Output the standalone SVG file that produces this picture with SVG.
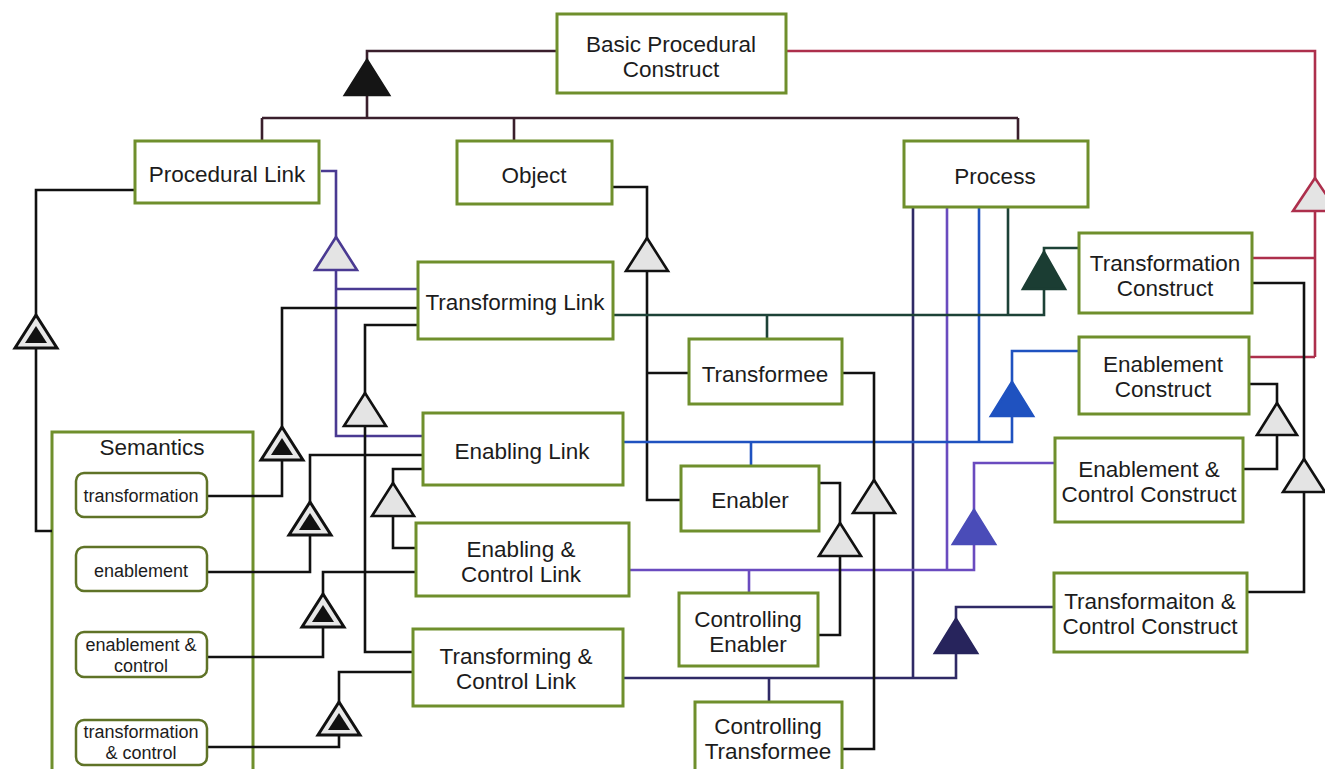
<svg xmlns="http://www.w3.org/2000/svg" width="1325" height="769" viewBox="0 0 1325 769">
<style>
.node rect{fill:#fff;stroke:#6f8f2c;stroke-width:3}
.sub rect{fill:#fff;stroke:#5f7327;stroke-width:2.5}
text{font-family:"Liberation Sans",Arial,sans-serif;fill:#1c1c1c;text-anchor:middle;dominant-baseline:central}
.t{font-size:22.5px}
.s{font-size:18px}
.c path{fill:none;stroke-width:2.6}
.k{stroke:#111}
.m{stroke:#3a1f2c}
.r{stroke:#ad2f4c}
.p{stroke:#4a3a92}
.g{stroke:#1d4237}
.b{stroke:#1f52c0}
.v{stroke:#6a4bbf}
.n{stroke:#2f2a66}
.tri{stroke-width:2.6;stroke-linejoin:miter}
.gray{fill:#e4e4e4}
</style>
<defs>
<g id="dtri"><polygon points="0,0 -21,33 21,33" fill="#e8e8e8" stroke="#111" stroke-width="3"/><polygon points="0,11 -11,28 11,28" fill="#111"/></g>
</defs>
<rect width="1325" height="769" fill="#fff"/>
<g id="semantics" class="node"><rect x="52" y="432" width="201" height="350"/><text class="t" x="152" y="447">Semantics</text></g>
<g id="connectors" class="c">
<path class="m" d="M557,51H367V62M367,95V118M262,118H1018M262,118V141M514,118V141M1018,118V141"/>
<path class="r" d="M786,51H1315V180M1315,211V357M1252,258H1315M1249,357H1315"/>
<path class="p" d="M321,171H336V239M336,270V436H423M336,289H418"/>
<path class="k" d="M135,190H36V315M36,349V531H52"/>
<path class="k" d="M612,187H647V240M647,271V500H681M647,373H689"/>
<path class="n" d="M913,207V678"/>
<path class="v" d="M947,207V570"/>
<path class="b" d="M979,207V442"/>
<path class="g" d="M1008,207V315"/>
<path class="g" d="M613,315H1044V289M767,315V339M1044,254V248H1079"/>
<path class="b" d="M623,442H1012V416M751,442V466M1012,384V351H1079"/>
<path class="v" d="M629,570H974V544M749,570V593M974,512V463H1055"/>
<path class="n" d="M623,678H956V653M769,678V702M956,621V607H1054"/>
<path class="k" d="M842,373H874V482M874,513V749H842"/>
<path class="k" d="M819,483H840V525M840,556V635H818"/>
<path class="k" d="M1249,384H1277V405M1277,435V469H1243"/>
<path class="k" d="M1252,283H1304V461M1304,492V592H1247"/>
<path class="k" d="M418,325H365V395M365,426V652H413"/>
<path class="k" d="M423,469H393V485M393,516V548H416"/>
<path class="k" d="M207,496H282V460M282,427V308H418"/>
<path class="k" d="M207,572H310V535M310,502V455H423"/>
<path class="k" d="M207,657H323V627M323,594V572H416"/>
<path class="k" d="M207,747H339V735M339,702V672H413"/>
</g>
<g id="triangles">
<polygon class="tri" points="367,60 345,95 389,95" fill="#151515" stroke="#151515"/>
<polygon class="tri gray" points="1315,178 1293,211 1337,211" stroke="#ad2f4c"/>
<polygon class="tri gray" points="336,237 315,270 357,270" stroke="#4a3a92"/>
<polygon class="tri gray" points="647,238 626,271 668,271" stroke="#111"/>
<polygon class="tri" points="1044,252 1023,289 1065,289" fill="#1b3d33" stroke="#1b3d33"/>
<polygon class="tri" points="1012,382 991,416 1033,416" fill="#1f52c0" stroke="#1f52c0"/>
<polygon class="tri" points="974,510 953,544 995,544" fill="#4a4cb8" stroke="#4a4cb8"/>
<polygon class="tri" points="956,619 935,653 977,653" fill="#27245c" stroke="#27245c"/>
<polygon class="tri gray" points="874,480 853,513 895,513" stroke="#111"/>
<polygon class="tri gray" points="840,523 819,556 861,556" stroke="#111"/>
<polygon class="tri gray" points="1277,403 1257,435 1297,435" stroke="#111"/>
<polygon class="tri gray" points="1304,459 1283,492 1325,492" stroke="#111"/>
<polygon class="tri gray" points="365,393 344,426 386,426" stroke="#111"/>
<polygon class="tri gray" points="393,483 372,516 414,516" stroke="#111"/>
<use href="#dtri" x="36" y="315"/>
<use href="#dtri" x="282" y="427"/>
<use href="#dtri" x="310" y="502"/>
<use href="#dtri" x="323" y="594"/>
<use href="#dtri" x="339" y="702"/>
</g>
<g id="basic-procedural-construct" class="node"><rect x="557" y="14" width="229" height="79"/><text class="t" x="671" y="44">Basic Procedural</text><text class="t" x="671" y="69">Construct</text></g>
<g id="procedural-link" class="node"><rect x="135" y="141" width="184" height="62"/><text class="t" x="227" y="174">Procedural Link</text></g>
<g id="object" class="node"><rect x="457" y="141" width="155" height="63"/><text class="t" x="534" y="175">Object</text></g>
<g id="process" class="node"><rect x="904" y="141" width="184" height="66"/><text class="t" x="995" y="176">Process</text></g>
<g id="transformation-construct" class="node"><rect x="1079" y="233" width="173" height="80"/><text class="t" x="1165" y="263">Transformation</text><text class="t" x="1165" y="288">Construct</text></g>
<g id="enablement-construct" class="node"><rect x="1079" y="337" width="170" height="77"/><text class="t" x="1163" y="364">Enablement</text><text class="t" x="1163" y="389">Construct</text></g>
<g id="enablement-control-construct" class="node"><rect x="1055" y="438" width="188" height="84"/><text class="t" x="1149" y="469">Enablement &amp;</text><text class="t" x="1149" y="494">Control Construct</text></g>
<g id="transformation-control-construct" class="node"><rect x="1054" y="573" width="193" height="79"/><text class="t" x="1150" y="601">Transformaiton &amp;</text><text class="t" x="1150" y="626">Control Construct</text></g>
<g id="transforming-link" class="node"><rect x="418" y="262" width="195" height="77"/><text class="t" x="515" y="302">Transforming Link</text></g>
<g id="transformee" class="node"><rect x="689" y="339" width="153" height="65"/><text class="t" x="765" y="374">Transformee</text></g>
<g id="enabling-link" class="node"><rect x="423" y="413" width="200" height="72"/><text class="t" x="522" y="451">Enabling Link</text></g>
<g id="enabler" class="node"><rect x="681" y="466" width="138" height="65"/><text class="t" x="750" y="500">Enabler</text></g>
<g id="enabling-control-link" class="node"><rect x="416" y="523" width="213" height="73"/><text class="t" x="521" y="549">Enabling &amp;</text><text class="t" x="521" y="574">Control Link</text></g>
<g id="controlling-enabler" class="node"><rect x="679" y="593" width="139" height="73"/><text class="t" x="748" y="619">Controlling</text><text class="t" x="748" y="644">Enabler</text></g>
<g id="transforming-control-link" class="node"><rect x="413" y="629" width="210" height="77"/><text class="t" x="516" y="656">Transforming &amp;</text><text class="t" x="516" y="681">Control Link</text></g>
<g id="controlling-transformee" class="node"><rect x="695" y="702" width="147" height="76"/><text class="t" x="768" y="726">Controlling</text><text class="t" x="768" y="751">Transformee</text></g>
<g id="sem-transformation" class="sub"><rect x="76" y="473" width="131" height="44" rx="8"/><text class="s" x="141" y="496">transformation</text></g>
<g id="sem-enablement" class="sub"><rect x="76" y="547" width="131" height="44" rx="8"/><text class="s" x="141" y="571">enablement</text></g>
<g id="sem-enablement-control" class="sub"><rect x="76" y="632" width="131" height="45" rx="8"/><text class="s" x="141" y="645">enablement &amp;</text><text class="s" x="141" y="666">control</text></g>
<g id="sem-transformation-control" class="sub"><rect x="76" y="720" width="131" height="45" rx="8"/><text class="s" x="141" y="732">transformation</text><text class="s" x="141" y="753">&amp; control</text></g>
</svg>
